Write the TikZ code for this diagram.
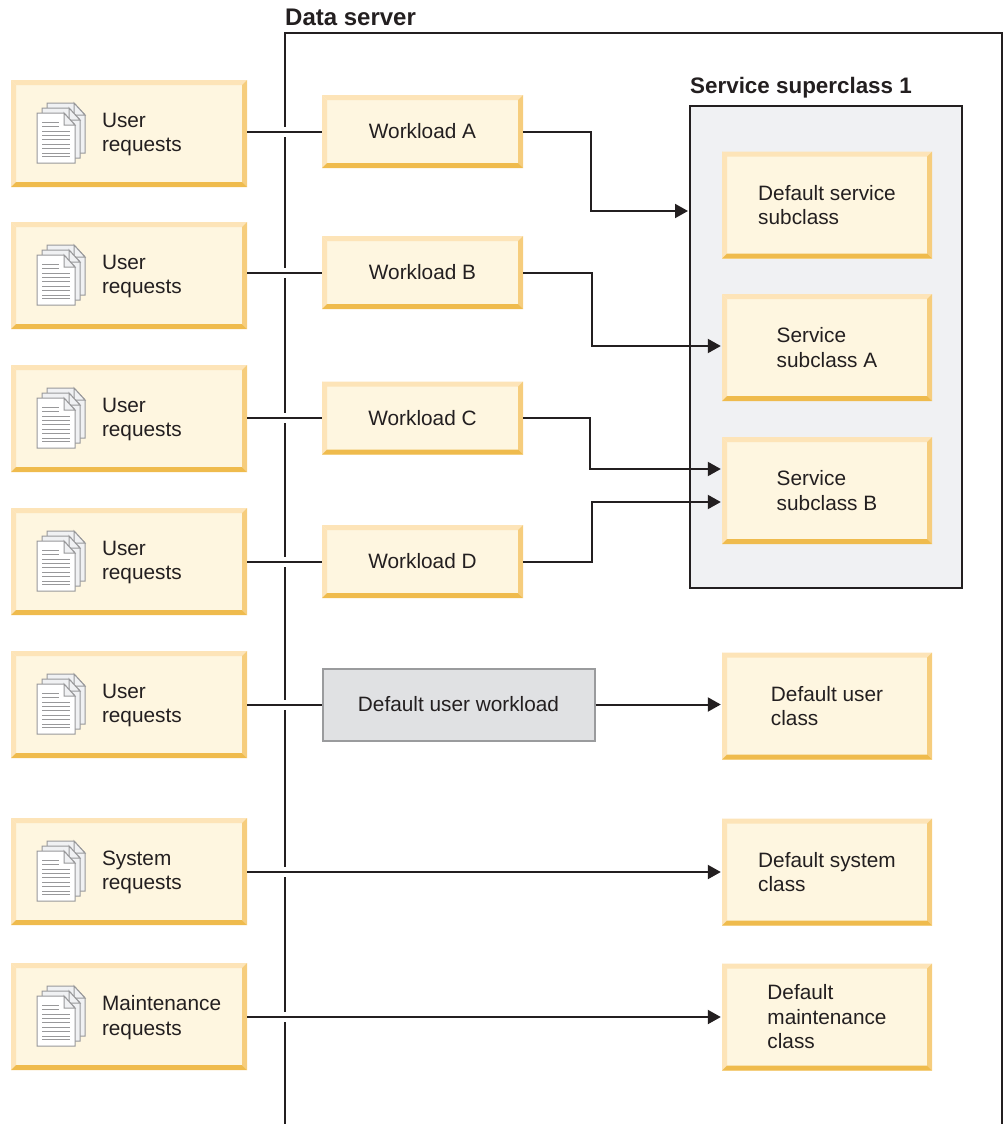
\documentclass[tikz,border=0pt]{standalone}
\usepackage{fontspec}
\setmainfont{Liberation Sans}
\usepackage{xcolor}
\usetikzlibrary{arrows.meta,calc,positioning}
\definecolor{inkdark}{HTML}{231F20}
\definecolor{beigefill}{HTML}{FEF6E0}
\definecolor{bevellight}{HTML}{FDE4B8}
\definecolor{bevelright}{HTML}{F6CD7D}
\definecolor{bevelbottom}{HTML}{EFBB4D}
\definecolor{panelgrey}{HTML}{F0F1F3}
\definecolor{greyfill}{HTML}{E0E1E3}
\definecolor{greyedge}{HTML}{9A9B9D}
\definecolor{pageedge}{HTML}{98989A}
\tikzset{%
	bevelbox/.style = {rectangle, inner sep=0pt, align=left, fill=beigefill, text=inkdark, font=\fontsize{20.8}{24.5}\selectfont,
		path picture={
			\coordinate (nw) at (path picture bounding box.north west);
			\coordinate (ne) at (path picture bounding box.north east);
			\coordinate (sw) at (path picture bounding box.south west);
			\coordinate (se) at (path picture bounding box.south east);
			\fill[bevellight] (nw) -- (ne) -- ($(ne)+(-5pt,-5pt)$) -- ($(nw)+(5pt,-5pt)$) -- cycle;
			\fill[bevellight] (nw) -- (sw) -- ($(sw)+(5pt,5pt)$) -- ($(nw)+(5pt,-5pt)$) -- cycle;
			\fill[bevelright] (ne) -- (se) -- ($(se)+(-5pt,5pt)$) -- ($(ne)+(-5pt,-5pt)$) -- cycle;
			\fill[bevelbottom] (sw) -- (se) -- ($(se)+(-5pt,5pt)$) -- ($(sw)+(5pt,5pt)$) -- cycle;
		}},
	reqbox/.style   = {bevelbox, minimum width=236pt, minimum height=107pt},
	loadbox/.style  = {bevelbox, minimum width=201pt, minimum height=73pt},
	classbox/.style = {bevelbox, minimum width=210pt, minimum height=107pt},
	greybox/.style  = {rectangle, draw=greyedge, line width=2pt, fill=greyfill, text=inkdark, inner sep=0pt, minimum width=272pt, minimum height=72pt, font=\fontsize{20.8}{24.5}\selectfont},
	reqtext/.style  = {inner sep=0pt, align=left, text=inkdark, font=\fontsize{20.8}{24.5}\selectfont},
	titletext/.style = {inner sep=0pt, text=inkdark, font=\fontsize{22.4}{26}\selectfont\bfseries},
	panel/.style    = {rectangle, draw=inkdark, line width=2pt, fill=panelgrey, inner sep=0pt, minimum width=272pt, minimum height=482pt},
	waypoint/.style = {coordinate},
	link/.style     = {draw=inkdark, line width=2pt},
	arrow/.style    = {link, shorten >=1pt, -{Triangle[length=13pt,width=14pt]}},
	gap/.style      = {draw=white, line width=4pt},
	docstack/.pic   = {
		\foreach \off/\tone in {10/panelgrey,5/panelgrey,0/white}{
			\filldraw[draw=pageedge, fill=\tone, line width=1pt] (\off,-\off) -- ++(27,0) -- ++(11,12) -- ++(0,38) -- ++(-38,0) -- cycle;
			\filldraw[draw=pageedge, fill=panelgrey, line width=1pt] (\off+27,-\off) -- ++(11,12) -- ++(-11,0) -- cycle;
		}
		\foreach \ly/\lx in {9.3/22,13.7/22,18/33,22.4/33,26.8/33,31.2/33,35.6/33,40/33,43.8/33}{
			\draw[pageedge, line width=1pt] (5,\ly) -- (\lx,\ly);
		}
	},
}
\begin{document}
\begin{tikzpicture}[x=1pt,y=-1pt]
	\useasboundingbox (0,0) rectangle (1005,1124);
	% data server frame
	\node [waypoint] (framesw) at (285,1124) {};
	\node [waypoint] (framene) at (1002,33) {};
	\node [waypoint] (framese) at (1002,1124) {};
	\draw[link] (framesw) |- (framene) -- (framese);
	\node [titletext,anchor=base west,font=\fontsize{24}{26}\selectfont\bfseries] (servertitle) at (285,26) {Data server};

	% requests
	\node [reqbox] (req1) at (129,133.5) {};
	\node [reqbox] (req2) [below of=req1,node distance=142pt] {};
	\node [reqbox] (req3) [below of=req2,node distance=143pt] {};
	\node [reqbox] (req4) [below of=req3,node distance=143pt] {};
	\node [reqbox] (req5) [below of=req4,node distance=143pt] {};
	\node [reqbox] (req6) [below of=req5,node distance=167pt] {};
	\node [reqbox] (req7) [below of=req6,node distance=145pt] {};
	\foreach \r/\first in {req1/User,req2/User,req3/User,req4/User,req5/User,req6/System,req7/Maintenance}{
		\node [reqtext,anchor=west] (\r text) at ([xshift=91pt,yshift=-1pt]\r.west) {\first\\requests};
		\path ([xshift=-92pt,yshift=20.5pt]\r.center) pic {docstack};
	}

	% workloads
	\node [loadbox] (wla) at (422.5,131.5) {Workload A};
	\node [loadbox] (wlb) at (422.5,272.5) {Workload B};
	\node [loadbox] (wlc) at (422.5,418) {Workload C};
	\node [loadbox] (wld) at (422.5,561.5) {Workload D};
	\node [greybox] (wlu) at (458.5,704.5) {Default user workload};

	% service superclass
	\node [panel] (sup) at (826,347) {};
	\node [titletext,anchor=base west] (suptitle) at (690,93) {Service superclass 1};
	\node [classbox] (cdef) at (827,205) {Default service\\subclass};
	\node [classbox] (csa) [below of=cdef,node distance=142.5pt] {Service\\subclass A};
	\node [classbox] (csb) [below of=csa,node distance=143pt] {Service\\subclass B};
	\node [classbox] (cuser) at (827,706) {Default user\\class};
	\node [classbox] (csys) at (827,872) {Default system\\class};
	\node [classbox] (cmaint) at (827,1017) {Default\\maintenance\\class};

	% breaks in the frame
	\foreach \w in {wla,wlb,wlc,wld,wlu,csys,cmaint}{
		\draw[gap] ($(framesw |- \w.west)+(0,-5)$) -- ($(framesw |- \w.west)+(0,5)$);
	}

	% links
	\draw[link] (wla.west -| req1.east) -- (wla.west);
	\draw[link] (wlb.west -| req2.east) -- (wlb.west);
	\draw[link] (wlc.west -| req3.east) -- (wlc.west);
	\draw[link] (wld.west -| req4.east) -- (wld.west);
	\draw[link] (wlu.west -| req5.east) -- (wlu.west);
	\draw[arrow] (wla.east) -- ++(68,0) |- ([yshift=-6pt]cdef.west -| sup.west);
	\draw[arrow] (wlb.east) -- ++(69,0) |- ([yshift=1.5pt]csa.west);
	\draw[arrow] (wlc.east) -- ++(67,0) |- ([yshift=21.5pt]csb.west);
	\draw[arrow] (wld.east) -- ++(69,0) |- ([yshift=-11.5pt]csb.west);
	\draw[arrow] (wlu.east) -- (wlu.east -| cuser.west);
	\draw[arrow] (csys.west -| req6.east) -- (csys.west);
	\draw[arrow] (cmaint.west -| req7.east) -- (cmaint.west);
\end{tikzpicture}
\end{document}
